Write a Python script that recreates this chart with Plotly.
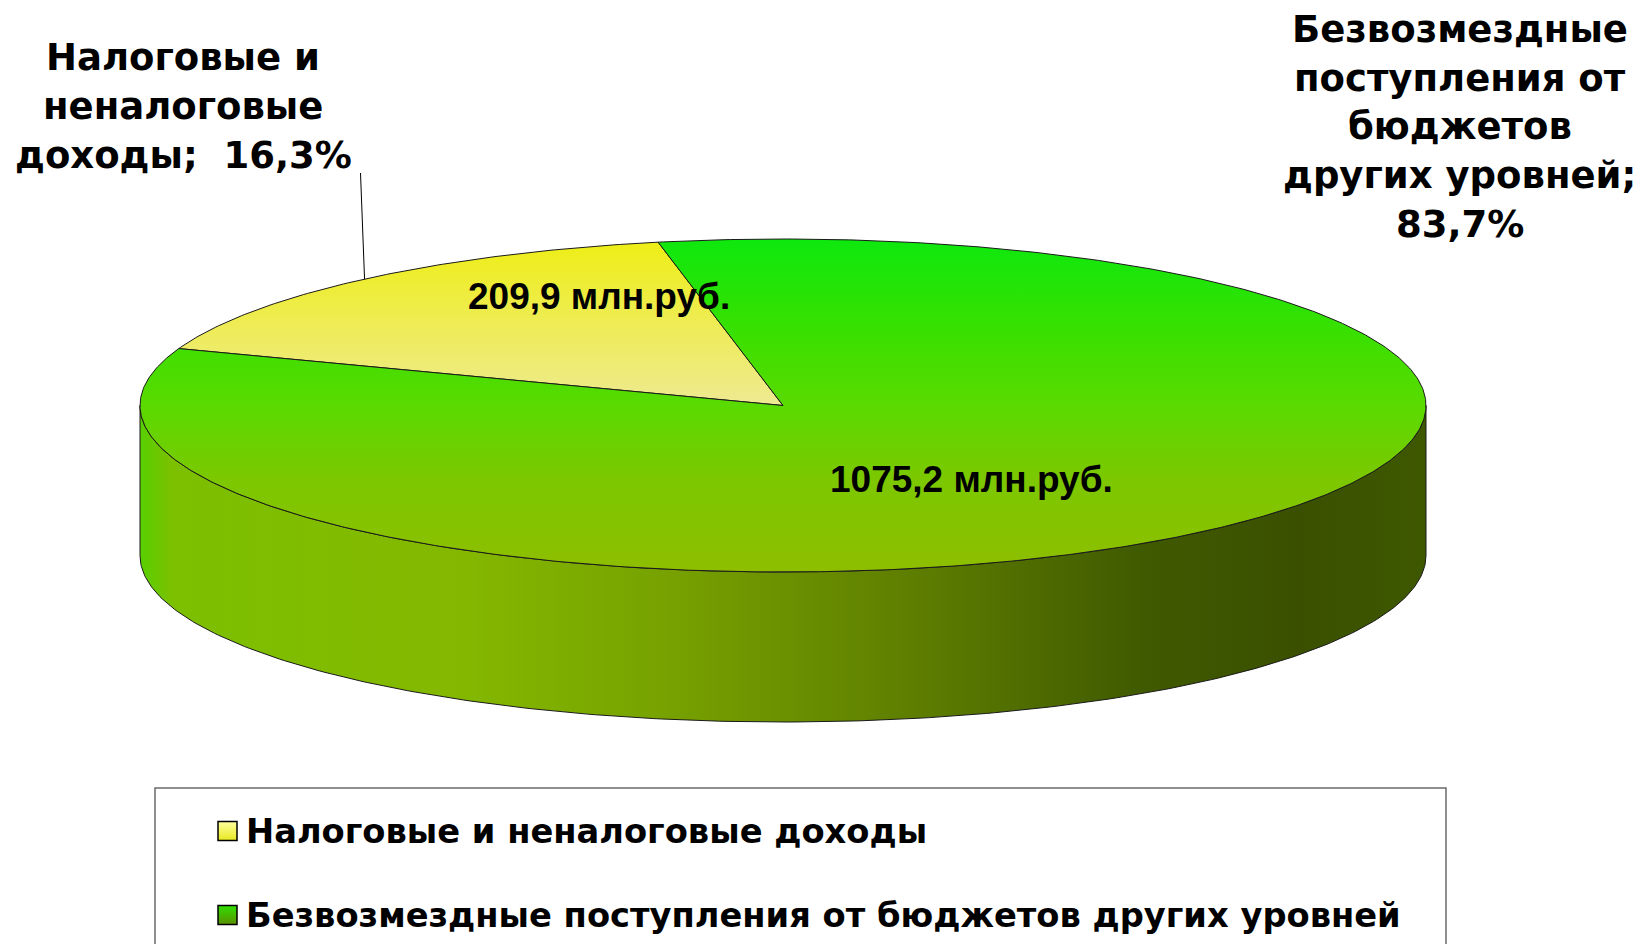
import numpy as np
import plotly.graph_objects as go

# ---------------- data ----------------
categories = ["Налоговые и неналоговые доходы",
              "Безвозмездные поступления от бюджетов других уровней"]
values = [209.9, 1075.2]
value_labels = ["209,9 млн.руб.", "1075,2 млн.руб."]
outer_label_lines = [["Налоговые и", "неналоговые", "доходы;"],
                     ["Безвозмездные", "поступления от", "бюджетов", "других уровней;"]]

# ---------------- geometry / style ----------------
OFF = 8  # browser body margin
W, H = 1643, 952
CX, CY, A, B, DEPTH = 783, 405.5, 643, 166.5, 150
START = 160.0  # first slice start angle (deg, math orientation), slices go clockwise
OUTLINE = dict(color="#1a1a1a", width=1)

top_scales = [
    [[0.0, "#EEEE14"], [1.0, "#EEEA92"]],
    [[0.0, "#0EE80E"], [0.27, "#38E000"], [0.5, "#5ADA00"], [0.72, "#7CC800"], [1.0, "#8EBE00"]],
]
top_grad_range = [(239, 405), (239, 572)]
side_scale = [[0.0, "#58D000"], [0.025, "#7CC000"], [0.25, "#84B800"], [0.42, "#76A000"],
              [0.6, "#5E7E00"], [0.78, "#405A00"], [0.9, "#3A5000"], [1.0, "#3E5800"]]
legend_marker = [("#FFFFA0", "#E8E820"), ("#30E000", "#5A9000")]


def pt(theta_deg, dy=0.0):
    t = np.radians(theta_deg)
    return CX + A * np.cos(t), CY - B * np.sin(t) + dy


vals = np.array(values)
total = vals.sum()
shares = vals / total
spans = shares * 360.0
pct_text = [f"{100 * s:.1f}".replace(".", ",") + "%" for s in shares]

fig = go.Figure()

# side wall (front half of the disc)
th = np.linspace(180, 360, 240)
xt, yt = pt(th)
xb, yb = pt(th[::-1], DEPTH)
fig.add_trace(go.Scatter(
    x=np.concatenate([xt, xb, xt[:1]]), y=np.concatenate([yt, yb, yt[:1]]),
    mode="lines", fill="toself", line=OUTLINE, hoverinfo="skip",
    fillgradient=dict(type="horizontal", start=CX - A, stop=CX + A, colorscale=side_scale)))

# top face sectors
a0 = START
mids = []
for i, span in enumerate(spans):
    a1 = a0 - span
    th = np.linspace(a0, a1, max(int(span * 2), 20))
    xs, ys = pt(th)
    fig.add_trace(go.Scatter(
        x=np.concatenate([[CX], xs, [CX]]), y=np.concatenate([[CY], ys, [CY]]),
        mode="lines", fill="toself", line=OUTLINE, hoverinfo="skip",
        fillgradient=dict(type="vertical", start=top_grad_range[i][0], stop=top_grad_range[i][1],
                          colorscale=top_scales[i])))
    mids.append((a0 + a1) / 2)
    a0 = a1

# outer labels
label_font = dict(family="DejaVu Sans", size=37, color="black", weight="bold")
outer_pos = [(183.4, 57.6), (1459.7, 29.3)]
LINE_H = 48.8
for i, lines in enumerate(outer_label_lines):
    full = list(lines)
    if i == 0:
        full[-1] = full[-1] + "  " + pct_text[i]
    else:
        full.append(pct_text[i])
    x0, y0 = outer_pos[i]
    for k, ln in enumerate(full):
        fig.add_annotation(x=x0, y=y0 + k * LINE_H, text=ln, showarrow=False,
                           xanchor="center", yanchor="middle", font=label_font)

# leader line for the first slice
ex, ey = pt(mids[0])
fig.add_trace(go.Scatter(x=[360.5, ex], y=[173, ey], mode="lines",
                         line=dict(color="black", width=1), hoverinfo="skip"))

# value labels
val_pos = [(599.4, 296.5), (971.4, 479)]
for i, t in enumerate(value_labels):
    fig.add_annotation(x=val_pos[i][0], y=val_pos[i][1], text=t, showarrow=False,
                       xanchor="center", yanchor="middle",
                       font=dict(family="Liberation Sans", size=37, color="black", weight="bold"))

# legend box
fig.add_shape(type="rect", x0=155, x1=1446, y0=788, y1=H + 20,
              line=dict(color="#6a6a6a", width=1.5), fillcolor="rgba(0,0,0,0)", layer="below")
LEG_X, LEG_Y0, LEG_DY = 227.5, 831, 84
for i, cat in enumerate(categories):
    fig.add_trace(go.Scatter(
        x=[LEG_X], y=[LEG_Y0 + i * LEG_DY], mode="markers", hoverinfo="skip",
        marker=dict(symbol="square", size=19, color=legend_marker[i][0],
                    gradient=dict(type="vertical", color=legend_marker[i][1]),
                    line=dict(color="black", width=1.5))))
    fig.add_annotation(x=LEG_X + 16, y=LEG_Y0 + i * LEG_DY, text=cat, showarrow=False,
                       xanchor="left", yanchor="middle",
                       font=dict(family="DejaVu Sans", size=33.7, color="black", weight="bold"))

fig.update_layout(
    width=W - 2 * OFF, height=H - 2 * OFF,
    margin=dict(l=0, r=0, t=0, b=0, pad=0),
    paper_bgcolor="white", plot_bgcolor="white", showlegend=False,
    xaxis=dict(range=[OFF, W - OFF], visible=False, fixedrange=True),
    yaxis=dict(range=[H - OFF, OFF], visible=False, fixedrange=True),
)

fig.write_html("out.html")
